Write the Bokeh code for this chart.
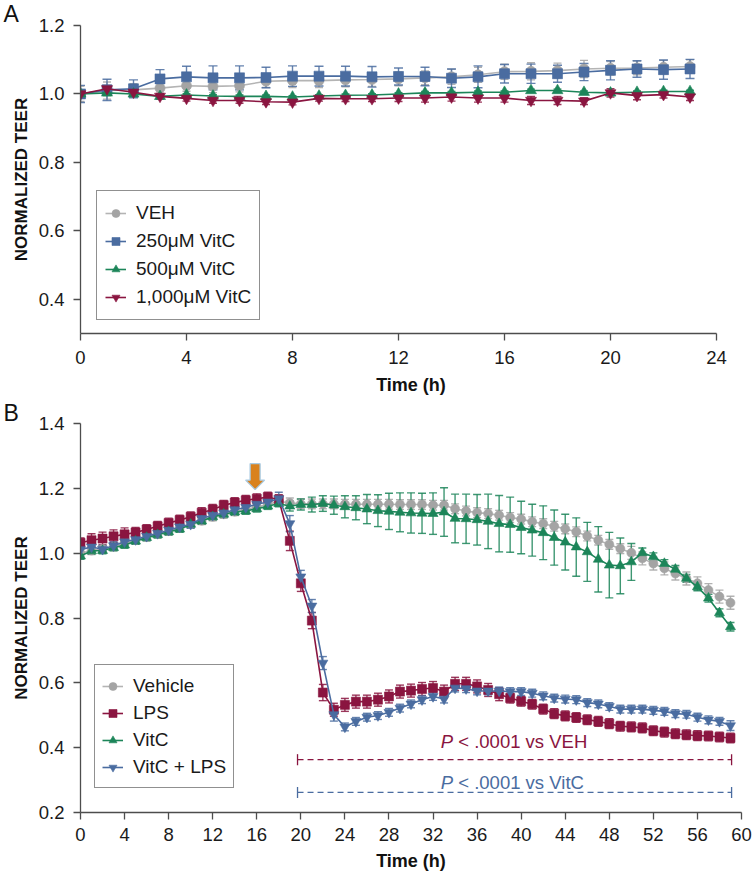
from bokeh.plotting import figure
from bokeh.models import (Range1d, FixedTicker, PrintfTickFormatter, Whisker, TeeHead,
                          ColumnDataSource, Legend, LegendItem)
from bokeh.layouts import column
from bokeh.embed import file_html
from bokeh.resources import INLINE
from bokeh.core.properties import value

FONT = "Liberation Sans"

# ---------------- Panel A data ----------------
hours_a = list(range(24))
veh_a = [1.000, 1.010, 1.012, 1.017, 1.024, 1.022, 1.024, 1.037, 1.039, 1.039, 1.041, 1.042,
         1.044, 1.047, 1.050, 1.056, 1.065, 1.066, 1.068, 1.073, 1.075, 1.076, 1.078, 1.080]
veh_a_err = [0.022, 0.025, 0.018, 0.015, 0.016, 0.018, 0.018, 0.018, 0.020, 0.020, 0.020, 0.020,
             0.020, 0.020, 0.022, 0.022, 0.022, 0.025, 0.022, 0.025, 0.020, 0.020, 0.020, 0.020]
vc250_a = [1.000, 1.012, 1.015, 1.044, 1.050, 1.047, 1.047, 1.048, 1.052, 1.052, 1.052, 1.050,
           1.051, 1.051, 1.046, 1.050, 1.059, 1.059, 1.059, 1.064, 1.069, 1.073, 1.071, 1.073]
vc250_a_err = [0.025, 0.031, 0.026, 0.027, 0.031, 0.035, 0.035, 0.030, 0.030, 0.029, 0.029, 0.030,
               0.025, 0.027, 0.027, 0.032, 0.027, 0.028, 0.025, 0.025, 0.028, 0.024, 0.028, 0.028]
vc500_a = [1.000, 1.003, 1.000, 0.993, 0.997, 0.994, 0.993, 0.993, 0.991, 0.994, 0.996, 0.997,
           1.000, 1.003, 1.003, 1.005, 1.005, 1.010, 1.010, 1.005, 1.003, 1.005, 1.007, 1.007]
vc500_a_err = [0.006, 0.008, 0.005, 0.004, 0.004, 0.004, 0.004, 0.004, 0.004, 0.004, 0.004, 0.004,
               0.004, 0.004, 0.004, 0.004, 0.004, 0.004, 0.004, 0.004, 0.004, 0.004, 0.004, 0.004]
vc1000_a = [1.000, 1.015, 1.005, 0.993, 0.987, 0.981, 0.981, 0.977, 0.976, 0.987, 0.986, 0.986,
            0.988, 0.988, 0.991, 0.988, 0.988, 0.981, 0.981, 0.979, 1.003, 0.995, 0.998, 0.991]
vc1000_a_err = [0.008, 0.010, 0.008, 0.008, 0.008, 0.008, 0.008, 0.008, 0.008, 0.008, 0.008, 0.008,
                0.010, 0.012, 0.012, 0.012, 0.012, 0.012, 0.012, 0.010, 0.012, 0.012, 0.010, 0.010]
labels_a = ["VEH", "250\u03bcM VitC", "500\u03bcM VitC", "1,000\u03bcM VitC"]
xticks_a = [0, 4, 8, 12, 16, 20, 24]
yticks_a = [0.4, 0.6, 0.8, 1.0, 1.2]

# ---------------- Panel B data ----------------
hours_b = list(range(60))
vehicle_b = [1.000, 1.008, 1.013, 1.020, 1.030, 1.040, 1.050, 1.060, 1.068, 1.078, 1.090, 1.100,
             1.112, 1.120, 1.128, 1.135, 1.142, 1.150,
             1.160, 1.155, 1.152, 1.152, 1.152, 1.152, 1.151, 1.151, 1.151, 1.151, 1.151, 1.150,
             1.150, 1.150, 1.148, 1.148,
             1.137, 1.130, 1.125, 1.122, 1.117, 1.110, 1.105, 1.097, 1.091, 1.083, 1.075, 1.066,
             1.053, 1.040, 1.027, 1.014, 1.001, 0.984, 0.968, 0.953, 0.937, 0.922, 0.907, 0.886,
             0.866, 0.847]
vehicle_b_err = [0.012, 0.012, 0.012, 0.012, 0.012, 0.012, 0.012, 0.012, 0.012, 0.012, 0.012, 0.012,
                 0.012, 0.012, 0.012, 0.012, 0.012, 0.012, 0.015, 0.015, 0.015, 0.015, 0.015, 0.015,
                 0.015, 0.015, 0.015, 0.015, 0.015, 0.015, 0.015, 0.015, 0.015, 0.015, 0.015, 0.015,
                 0.015, 0.015, 0.015, 0.015, 0.015, 0.015, 0.015, 0.015, 0.015, 0.015, 0.015, 0.015,
                 0.015, 0.015, 0.020, 0.020, 0.020, 0.020, 0.020, 0.020, 0.020, 0.020, 0.020, 0.020]
lps_b = [1.032, 1.040, 1.045, 1.052, 1.058, 1.064, 1.073, 1.083, 1.093, 1.102, 1.112, 1.125,
         1.135, 1.148, 1.156, 1.163, 1.168, 1.173, 1.165,
         1.038, 0.907, 0.792, 0.570, 0.517, 0.532, 0.542, 0.542, 0.548, 0.558, 0.573, 0.576,
         0.581, 0.584, 0.573, 0.597, 0.597, 0.589, 0.578, 0.565,
         0.553, 0.543, 0.534, 0.519, 0.505, 0.498, 0.493, 0.486, 0.481, 0.474, 0.466, 0.464,
         0.461, 0.452, 0.448, 0.443, 0.440, 0.437, 0.436, 0.433, 0.430]
lps_b_err = [0.015, 0.020, 0.020, 0.020, 0.020, 0.015, 0.015, 0.015, 0.015, 0.015, 0.015, 0.015,
             0.015, 0.015, 0.015, 0.015, 0.015, 0.015, 0.015, 0.030, 0.025, 0.025, 0.025, 0.020,
             0.020, 0.020, 0.020, 0.020, 0.020, 0.020, 0.020, 0.020, 0.020, 0.020, 0.020, 0.020,
             0.020, 0.020, 0.020, 0.015, 0.015, 0.015, 0.015, 0.015, 0.015, 0.015, 0.015, 0.015,
             0.015, 0.015, 0.015, 0.015, 0.015, 0.015, 0.015, 0.015, 0.015, 0.015, 0.015, 0.015]
vitc_b = [0.991, 1.007, 1.008, 1.017, 1.025, 1.037, 1.048, 1.057, 1.066, 1.074, 1.089, 1.099,
          1.112, 1.120, 1.127, 1.130, 1.137, 1.145, 1.153,
          1.145, 1.150, 1.150, 1.153, 1.148, 1.143, 1.140, 1.136, 1.131, 1.129, 1.126, 1.124,
          1.123, 1.122, 1.127, 1.107, 1.106, 1.103, 1.098, 1.091,
          1.088, 1.079, 1.071, 1.063, 1.048, 1.034, 1.019, 1.004, 0.981, 0.963, 0.961, 0.973,
          1.001, 0.989, 0.968, 0.950, 0.922, 0.896, 0.861, 0.816, 0.773]
vitc_b_err = [0.010, 0.010, 0.010, 0.010, 0.010, 0.010, 0.010, 0.010, 0.010, 0.010, 0.010, 0.010,
              0.010, 0.010, 0.010, 0.010, 0.010, 0.010, 0.010,
              0.015, 0.017, 0.023, 0.024, 0.028, 0.034, 0.037, 0.045, 0.049, 0.056, 0.060, 0.062,
              0.062, 0.064, 0.075, 0.075, 0.076, 0.078, 0.084, 0.087,
              0.085, 0.081, 0.080, 0.083, 0.085, 0.086, 0.090, 0.091, 0.101, 0.101, 0.086, 0.057,
              0.015, 0.012, 0.012, 0.012, 0.012, 0.012, 0.012, 0.012, 0.013]
vitclps_b = [1.011, 1.019, 1.012, 1.023, 1.035, 1.042, 1.052, 1.061, 1.071, 1.081, 1.089, 1.107,
             1.117, 1.124, 1.134, 1.141, 1.151, 1.158, 1.168,
             1.091, 0.927, 0.837, 0.661, 0.502, 0.464, 0.481, 0.494, 0.499, 0.509, 0.522, 0.535,
             0.548, 0.558, 0.550, 0.584, 0.582, 0.575, 0.575, 0.575,
             0.573, 0.573, 0.568, 0.560, 0.553, 0.550, 0.548, 0.539, 0.535, 0.527, 0.519, 0.519,
             0.519, 0.515, 0.512, 0.505, 0.503, 0.494, 0.486, 0.481, 0.468]
vitclps_b_err = [0.012, 0.012, 0.012, 0.012, 0.012, 0.012, 0.012, 0.012, 0.012, 0.012, 0.012, 0.012,
                 0.012, 0.012, 0.012, 0.012, 0.012, 0.012, 0.020, 0.025, 0.020, 0.020, 0.020, 0.020,
                 0.012, 0.012, 0.012, 0.012, 0.012, 0.012, 0.012, 0.012, 0.012, 0.012, 0.012, 0.012,
                 0.012, 0.012, 0.012, 0.012, 0.012, 0.012, 0.012, 0.012, 0.012, 0.012, 0.012, 0.012,
                 0.012, 0.012, 0.012, 0.012, 0.012, 0.012, 0.012, 0.012, 0.012, 0.012, 0.012, 0.015]
labels_b = ["Vehicle", "LPS", "VitC", "VitC + LPS"]
xticks_b = list(range(0, 61, 4))
yticks_b = [0.2, 0.4, 0.6, 0.8, 1.0, 1.2, 1.4]

# LPS addition marker and significance brackets
arrow_t = [15.85]
arrow_tip = [1.196]
bracket_start = [19.7, 19.7]
bracket_end = [59.1, 59.1]
bracket_y = [0.363, 0.262]
ptext_x = [32.7, 32.7]
ptext_y = [0.419, 0.292]
ptext_rest = ["< .0001 vs VEH", "< .0001 vs VitC"]

# ---------------- styles ----------------
GRAY = "#a4a4a4"
GRAY_LINE = "#b4b4b4"
BLUE = "#4a6ca0"
GREEN = "#1c8559"
RED = "#8a1540"
ORANGE = "#d9821e"
AXIS = "#4d4d4d"

FIG_W = 752
FRAME_W = 661          # frame spans x = 80 .. 741 in both panels
PX_PER_H_A = 26.5      # panel A time scale (axis drawn 0..24)


def style_axes(p, xlab_standoff, x_axstandoff):
    for ax in (p.xaxis[0], p.yaxis[0]):
        ax.axis_line_color = AXIS
        ax.axis_line_width = 1.3
        ax.major_tick_line_color = AXIS
        ax.major_tick_line_width = 1.3
        ax.major_tick_out = 7
        ax.major_tick_in = 0
        ax.minor_tick_line_color = None
        ax.major_label_text_font = FONT
        ax.major_label_text_font_size = "18.5px"
        ax.major_label_text_color = "#1a1a1a"
        ax.axis_label_text_font = FONT
        ax.axis_label_text_font_style = "bold"
        ax.axis_label_text_color = "#111111"
    p.xaxis[0].axis_label_text_font_size = "18px"
    p.yaxis[0].axis_label_text_font_size = "17px"
    p.xaxis[0].major_label_standoff = xlab_standoff
    p.xaxis[0].axis_label_standoff = x_axstandoff
    p.yaxis[0].major_label_standoff = 9
    p.yaxis[0].axis_label_standoff = 5
    p.yaxis[0].formatter = PrintfTickFormatter(format="%.1f")
    p.grid.visible = False
    p.outline_line_color = None


def style_title(p, standoff):
    p.title.align = "left"
    p.title.offset = -77
    p.title.standoff = standoff
    p.title.text_font = FONT
    p.title.text_font_size = "23px"
    p.title.text_font_style = "normal"
    p.title.text_color = "#111111"


def add_series(p, x, y, err, color, line_color, marker, size, cap):
    lo = [a - b for a, b in zip(y, err)]
    hi = [a + b for a, b in zip(y, err)]
    src = ColumnDataSource(dict(x=x, y=y, lo=lo, hi=hi))
    w = Whisker(source=src, base="x", upper="hi", lower="lo", dimension="height",
                line_color=color, line_width=1.4, line_alpha=0.85,
                upper_head=TeeHead(size=cap, line_color=color, line_width=1.4, line_alpha=0.85),
                lower_head=TeeHead(size=cap, line_color=color, line_width=1.4, line_alpha=0.85))
    p.add_layout(w)
    r1 = p.line("x", "y", source=src, line_color=line_color, line_width=1.6)
    r2 = p.scatter("x", "y", source=src, marker=marker, size=size,
                   fill_color=color, line_color=color, line_alpha=0.6)
    return [r1, r2]


def make_legend(items, loc, label_h, pad):
    lg = Legend(items=items, location=loc)
    lg.label_text_font = FONT
    lg.label_text_font_size = "19px"
    lg.label_text_color = "#1a1a1a"
    lg.border_line_color = "#222222"
    lg.border_line_width = 1.2
    lg.background_fill_alpha = 1.0
    lg.glyph_width = 21
    lg.glyph_height = 20
    lg.label_height = label_h
    lg.label_standoff = 10
    lg.spacing = 0
    lg.padding = pad
    lg.margin = 0
    return lg


# ---------------- Panel A ----------------
pA = figure(width=FIG_W, height=397, title="A",
            x_range=Range1d(0, FRAME_W / PX_PER_H_A), y_range=Range1d(0.3, 1.2),
            output_backend="svg", toolbar_location=None,
            min_border_left=80, min_border_right=FIG_W - 80 - FRAME_W,
            min_border_top=25, min_border_bottom=63)
pA.xaxis.ticker = FixedTicker(ticks=xticks_a)
pA.xaxis.bounds = (xticks_a[0], xticks_a[-1])
pA.yaxis.ticker = FixedTicker(ticks=yticks_a)
pA.xaxis.axis_label = "Time (h)"
pA.yaxis.axis_label = "NORMALIZED TEER"
style_axes(pA, 10, 8)
style_title(pA, -3)

rA = [
    add_series(pA, hours_a, veh_a, veh_a_err, GRAY, GRAY_LINE, "circle", 10, 8),
    add_series(pA, hours_a, vc250_a, vc250_a_err, BLUE, BLUE, "square", 10, 9),
    add_series(pA, hours_a, vc500_a, vc500_a_err, GREEN, GREEN, "triangle", 11, 8),
    add_series(pA, hours_a, vc1000_a, vc1000_a_err, RED, RED, "inverted_triangle", 11, 8),
]
legA = make_legend([LegendItem(label=l, renderers=r) for l, r in zip(labels_a, rA)],
                   (16, 13), 28, 8)
pA.add_layout(legA)

# ---------------- Panel B ----------------
pB = figure(width=FIG_W, height=476, title="B",
            x_range=Range1d(0, 60), y_range=Range1d(0.2, 1.4),
            output_backend="svg", toolbar_location=None,
            min_border_left=80, min_border_right=FIG_W - 80 - FRAME_W,
            min_border_top=26, min_border_bottom=61)
pB.xaxis.ticker = FixedTicker(ticks=xticks_b)
pB.yaxis.ticker = FixedTicker(ticks=yticks_b)
pB.xaxis.axis_label = "Time (h)"
pB.yaxis.axis_label = "NORMALIZED TEER"
style_axes(pB, 8, 7)
style_title(pB, -4)

rB = [
    add_series(pB, hours_b, vehicle_b, vehicle_b_err, GRAY, GRAY_LINE, "circle", 9, 8),
    add_series(pB, hours_b, lps_b, lps_b_err, RED, RED, "square", 9, 8),
    add_series(pB, hours_b, vitc_b, vitc_b_err, GREEN, GREEN, "triangle", 10, 8),
    add_series(pB, hours_b, vitclps_b, vitclps_b_err, BLUE, BLUE, "inverted_triangle", 10, 8),
]
legB = make_legend([LegendItem(label=l, renderers=r) for l, r in zip(labels_b, rB)],
                   (14, 24), 27, 7)
pB.add_layout(legB)

# significance brackets
br_colors = [RED, BLUE]
cap_h = 0.017
pB.segment(x0=bracket_start, y0=bracket_y, x1=bracket_end, y1=bracket_y,
           line_color=br_colors, line_width=1.3, line_dash="6 4")
pB.segment(x0=bracket_start, y0=[v - cap_h for v in bracket_y],
           x1=bracket_start, y1=[v + cap_h for v in bracket_y],
           line_color=br_colors, line_width=1.3)
pB.segment(x0=bracket_end, y0=[v - cap_h for v in bracket_y],
           x1=bracket_end, y1=[v + cap_h for v in bracket_y],
           line_color=br_colors, line_width=1.3)
pB.text(x=ptext_x, y=ptext_y, text=["P", "P"], text_color=br_colors,
        text_font=value(FONT), text_font_style="italic", text_font_size="18.5px",
        text_align="left", text_baseline="alphabetic")
pB.text(x=ptext_x, y=ptext_y, text=ptext_rest, text_color=br_colors, x_offset=17.5,
        text_font=value(FONT), text_font_size="18.5px",
        text_align="left", text_baseline="alphabetic")

# LPS addition arrow (shape offsets in pixels converted through the frame scale)
px_per_h = FRAME_W / 60.0
px_per_u = 389 / 1.2
shape = [(0, 0), (-9.5, 9.5), (-5, 9.5), (-5, 26), (5, 26), (5, 9.5), (9.5, 9.5)]
ax_ = [arrow_t[0] + dx / px_per_h for dx, dy in shape]
ay_ = [arrow_tip[0] + dy / px_per_u for dx, dy in shape]
pB.patch(ax_, ay_, fill_color=ORANGE, line_color="#a9cbe3", line_width=1.3)

layout = column(pA, pB, spacing=0)
open("out.html", "w").write(file_html(layout, INLINE))
